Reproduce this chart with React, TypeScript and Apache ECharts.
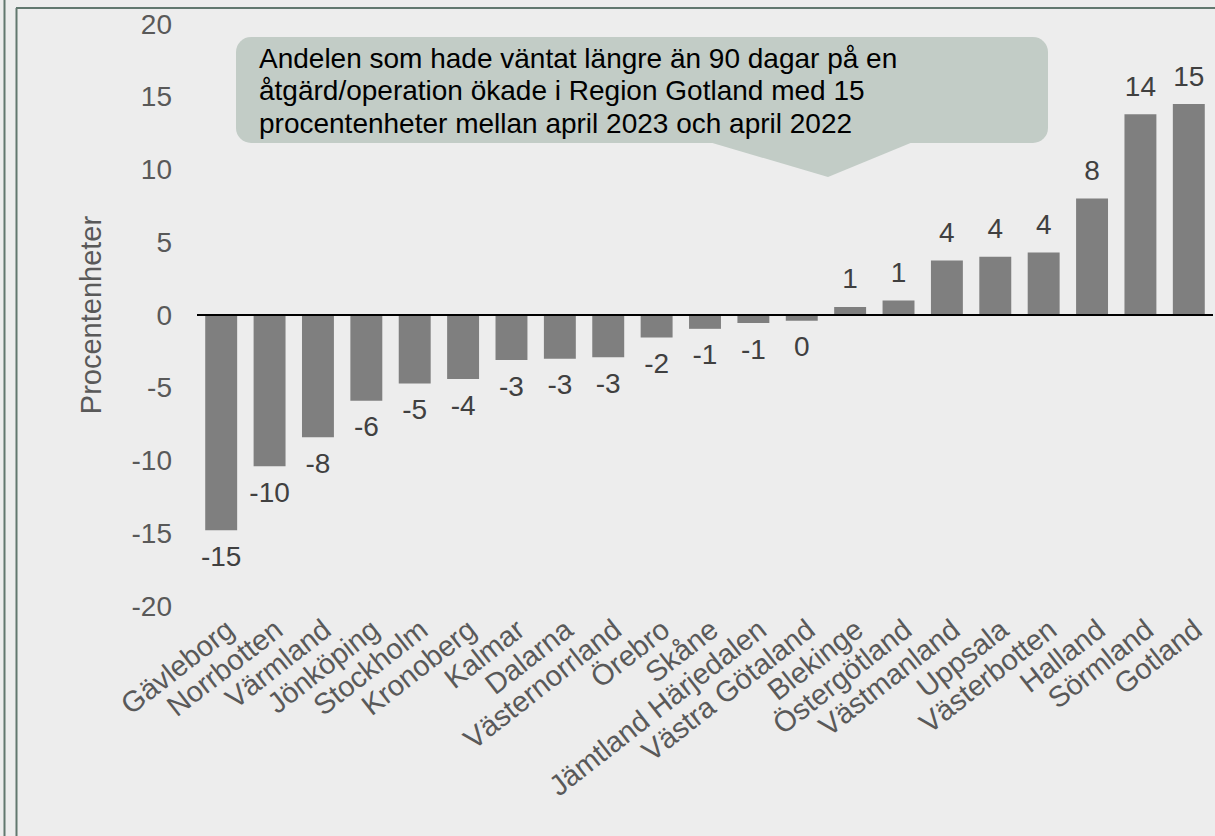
import React, { useEffect, useRef } from "react";
import * as echarts from "echarts";

const categories = [
  "Gävleborg", "Norrbotten", "Värmland", "Jönköping", "Stockholm", "Kronoberg",
  "Kalmar", "Dalarna", "Västernorrland", "Örebro", "Skåne", "Jämtland Härjedalen",
  "Västra Götaland", "Blekinge", "Östergötland", "Västmanland", "Uppsala",
  "Västerbotten", "Halland", "Sörmland", "Gotland",
];
const values = [
  -14.8, -10.4, -8.4, -5.9, -4.7, -4.4, -3.1, -3.0, -2.9, -1.55, -0.95, -0.55,
  -0.4, 0.55, 1.0, 3.75, 4.0, 4.3, 8.0, 13.8, 14.5,
];
const yMin = -20;
const yMax = 20;
const yInterval = 5;
const axisName = "Procentenheter";
const calloutText =
  "Andelen som hade väntat längre än 90 dagar på en\nåtgärd/operation ökade i Region Gotland med 15\nprocentenheter mellan april 2023 och april 2022";

const FONT = "'Liberation Sans', Arial, sans-serif";
const BORDER = "#62786f";

export default function App() {
  const ref = useRef<HTMLDivElement>(null);
  useEffect(() => {
    if (!ref.current) return;
    const chart = echarts.init(ref.current, null, { renderer: "svg" });
    chart.setOption({
      animation: false,
      backgroundColor: "#ededed",
      textStyle: { fontFamily: FONT },
      grid: { left: 197, right: 2, top: 24, bottom: 230, containLabel: false },
      xAxis: {
        type: "category",
        data: categories,
        axisLine: { show: false },
        axisTick: { show: false },
        axisLabel: {
          rotate: 38,
          interval: 0,
          margin: 8,
          verticalAlign: "top",
          color: "#595959",
          fontSize: 29,
          fontFamily: FONT,
        },
      },
      yAxis: {
        type: "value",
        min: yMin,
        max: yMax,
        interval: yInterval,
        name: axisName,
        nameLocation: "middle",
        nameGap: 92,
        nameTextStyle: { color: "#595959", fontSize: 29, fontFamily: FONT },
        axisLine: { show: false },
        axisTick: { show: false },
        splitLine: { show: false },
        axisLabel: { color: "#595959", fontSize: 28, margin: 25, fontFamily: FONT },
      },
      series: [
        {
          type: "bar",
          barCategoryGap: "34%",
          itemStyle: { color: "#7f7f7f" },
          data: values.map((v) => ({
            value: v,
            label: { position: v < 0 ? "bottom" : "top", distance: v < 0 ? 12 : 14 },
          })),
          label: {
            show: true,
            color: "#404040",
            fontSize: 28,
            fontFamily: FONT,
            formatter: (p: any) => String(Math.round(p.value) || 0),
          },
          markLine: {
            silent: true,
            symbol: "none",
            label: { show: false },
            lineStyle: { color: "#000000", width: 2, type: "solid" },
            data: [{ yAxis: 0 }],
          },
          z: 2,
        },
      ],
      graphic: [
        { type: "line", shape: { x1: 4.5, y1: 0, x2: 4.5, y2: 836 }, style: { stroke: BORDER, lineWidth: 2 } },
        { type: "line", shape: { x1: 16.5, y1: 8, x2: 16.5, y2: 836 }, style: { stroke: BORDER, lineWidth: 2 } },
        { type: "line", shape: { x1: 16, y1: 8, x2: 1215, y2: 8 }, style: { stroke: BORDER, lineWidth: 2 } },
        {
          type: "rect",
          shape: { x: 236, y: 37, width: 812, height: 106, r: 15 },
          style: { fill: "#c2ccc6" },
          z: 10,
        },
        {
          type: "polygon",
          shape: { points: [[709, 142], [913, 142], [828, 177]] },
          style: { fill: "#c2ccc6" },
          z: 10,
        },
        {
          type: "text",
          x: 259,
          y: 42,
          z: 11,
          style: {
            text: calloutText,
            fill: "#000000",
            font: `28px ${FONT}`,
            lineHeight: 32.5,
            textVerticalAlign: "top",
          },
        },
      ],
    });
    return () => chart.dispose();
  }, []);
  return (
    <div
      ref={ref}
      style={{ position: "absolute", left: 0, top: 0, width: 1215, height: 836 }}
    />
  );
}
